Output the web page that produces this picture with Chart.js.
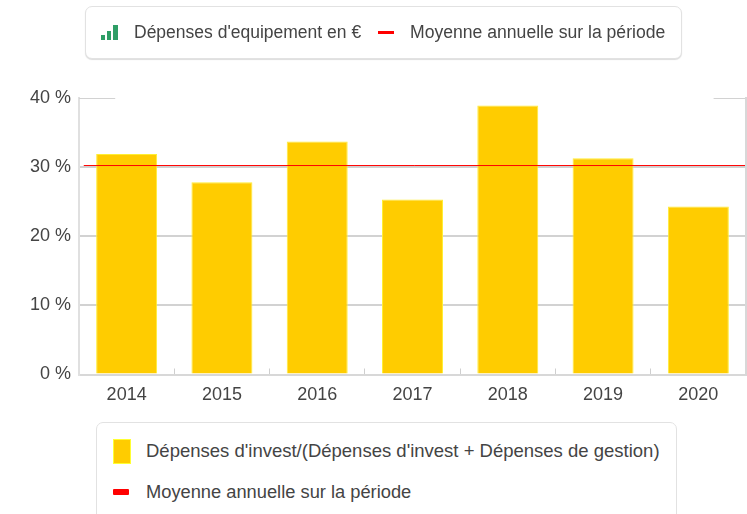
<!DOCTYPE html>
<html><head><meta charset="utf-8">
<script src="https://cdn.jsdelivr.net/npm/chart.js@4"></script>
<style>
html,body{margin:0;padding:0;background:#fff;overflow:hidden}
#wrap{position:relative;width:747px;height:514px;overflow:hidden;font-family:"Liberation Sans",Arial,sans-serif;color:#444}
canvas{position:absolute;left:0;top:0}
.box{position:absolute;background:#fff;border:1px solid #e2e2e2;border-radius:7px;box-sizing:border-box}
.t{position:absolute;white-space:nowrap;font-size:18px;line-height:20px}
.s{position:absolute}
</style></head><body>
<div id="wrap">
<canvas id="c" width="747" height="514"></canvas>
<div class="box" style="left:85px;top:6px;width:597px;height:53px;box-shadow:0 1px 1px #ddd"></div>
<div class="s" style="left:101px;top:35px;width:4px;height:5px;background:#2e9e66"></div>
<div class="s" style="left:107px;top:31px;width:4px;height:9px;background:#2e9e66"></div>
<div class="s" style="left:113px;top:25px;width:5px;height:15px;background:#2e9e66"></div>
<div class="t" style="left:134px;top:22px;font-size:17.5px">Dépenses d'equipement en €</div>
<div class="s" style="left:378px;top:31px;width:16px;height:3px;background:#f00"></div>
<div class="t" style="left:410px;top:22px;font-size:17.6px">Moyenne annuelle sur la période</div>
<div class="box" style="left:96px;top:422px;width:581px;height:110px"></div>
<div class="s" style="left:113px;top:439px;width:18px;height:25px;background:#fc0;border:1px solid #ff3;box-sizing:border-box"></div>
<div class="t" style="left:146px;top:441px;font-size:18.5px">Dépenses d'invest/(Dépenses d'invest + Dépenses de gestion)</div>
<div class="s" style="left:113px;top:489px;width:16px;height:6px;background:#f00;border-radius:1px"></div>
<div class="t" style="left:146px;top:482px;font-size:18.3px">Moyenne annuelle sur la période</div>
</div>
<script>
const categories = ["2014","2015","2016","2017","2018","2019","2020"];
const investShare = [31.9,27.8,33.7,25.3,38.9,31.3,24.3];
const meanValue = 30.23;
const yTicks = [0,10,20,30,40];
const meanLine = [{x:-0.45,y:meanValue},{x:6.5,y:meanValue}];
const topRuleLeft = [{x:-0.5,y:40},{x:-0.12,y:40}];
const topRuleRight = [{x:6.16,y:40},{x:6.5,y:40}];

new Chart(document.getElementById('c'),{
  type:'bar',
  data:{labels:categories,datasets:[
    {type:'bar',label:"Dépenses d'invest/(Dépenses d'invest + Dépenses de gestion)",data:investShare,
     backgroundColor:'#ffcc00',borderColor:'#ffee33',borderWidth:1,barPercentage:0.64,categoryPercentage:1,order:1},
    {type:'line',label:'Moyenne annuelle sur la période',data:meanLine,
     borderColor:'#f00',borderWidth:1,pointRadius:0,order:0,parsing:false},
    {type:'line',label:'rule left',data:topRuleLeft,
     borderColor:'#d2d2d2',borderWidth:2,pointRadius:0,order:3,parsing:false},
    {type:'line',label:'rule right',data:topRuleRight,
     borderColor:'#d2d2d2',borderWidth:2,pointRadius:0,order:3,parsing:false}
  ]},
  options:{
    responsive:false,animation:false,
    layout:{padding:{left:0,right:1,top:98,bottom:0}},
    plugins:{legend:{display:false},tooltip:{enabled:false}},
    scales:{
      x:{type:'category',offset:true,
        grid:{drawOnChartArea:false,drawTicks:true,tickLength:-6,tickColor:'#cfcfcf',offset:true},
        border:{color:'#d8d8d8',width:2},
        ticks:{color:'#444',font:{family:'"Liberation Sans",Arial,sans-serif',size:18},padding:16,maxRotation:0},
        afterFit(s){s.height=139.5}},
      y:{min:0,max:40,
        afterBuildTicks(s){s.ticks=yTicks.map(v=>({value:v}))},
        grid:{color:c=>c.tick.value===40||c.tick.value===0?'rgba(0,0,0,0)':'#d2d2d2',lineWidth:2,drawTicks:false},
        border:{color:'#e0e0e0',width:2},
        ticks:{color:'#444',font:{family:'"Liberation Sans",Arial,sans-serif',size:18},padding:8,callback:v=>v+' %'},
        afterFit(s){s.width=79}}
    }
  },
  plugins:[{id:'rightEdge',afterDraw(ch){const a=ch.chartArea,x=ch.ctx;x.save();x.strokeStyle='#d8d8d8';x.lineWidth=2;x.beginPath();x.moveTo(a.right,a.top-1);x.lineTo(a.right,a.bottom);x.stroke();x.restore();}}]
});
</script>
</body></html>
